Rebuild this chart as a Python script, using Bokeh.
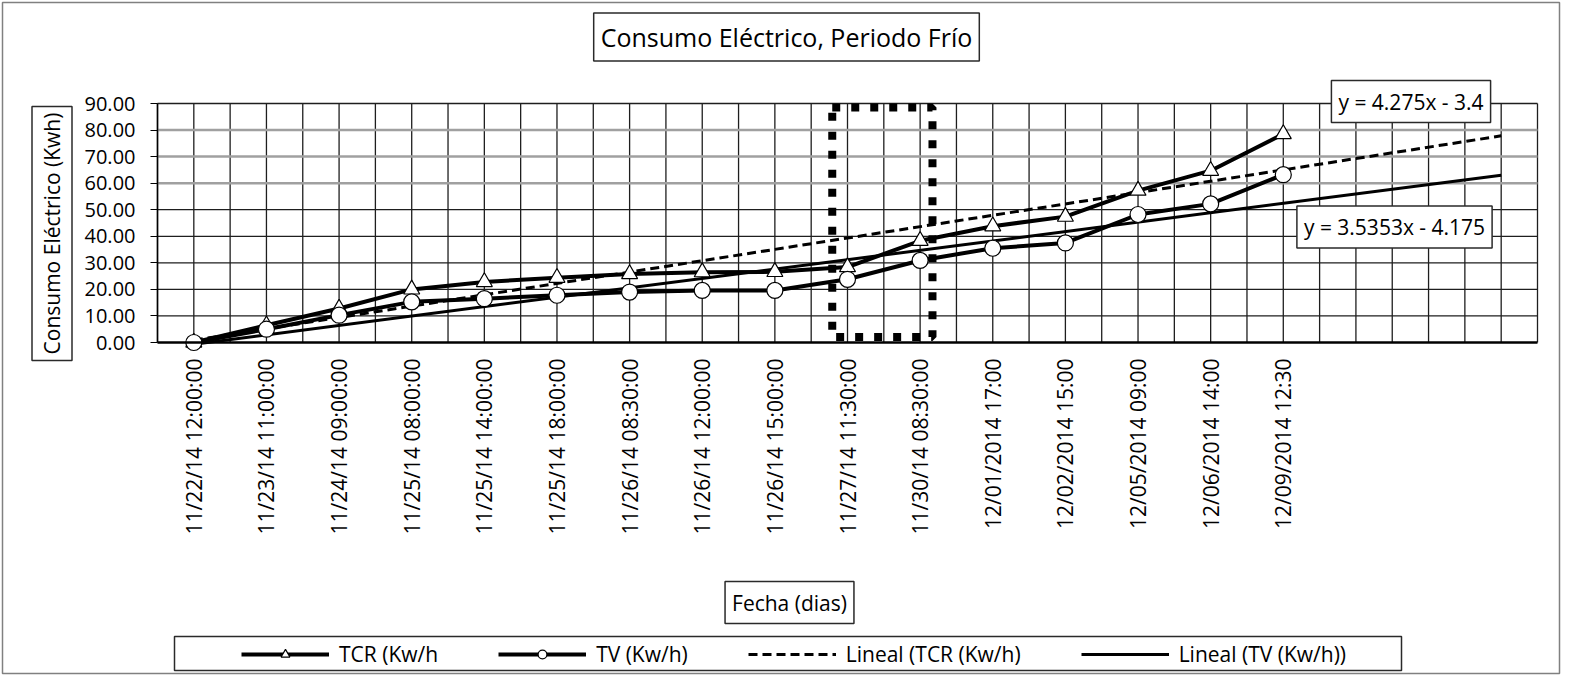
import math
from bokeh.plotting import figure
from bokeh.models import (Range1d, FixedTicker, NumeralTickFormatter, Label,
                          Legend, LegendItem, BoxAnnotation)
from bokeh.embed import file_html
from bokeh.resources import INLINE

# ---------------- data ----------------
categories = [
    "11/22/14 12:00:00", "11/23/14 11:00:00", "11/24/14 09:00:00",
    "11/25/14 08:00:00", "11/25/14 14:00:00", "11/25/14 18:00:00",
    "11/26/14 08:30:00", "11/26/14 12:00:00", "11/26/14 15:00:00",
    "11/27/14 11:30:00", "11/30/14 08:30:00", "12/01/2014 17:00",
    "12/02/2014 15:00", "12/05/2014 09:00", "12/06/2014 14:00",
    "12/09/2014 12:30",
]
tcr = [0.0, 6.5, 12.8, 20.0, 22.8, 24.4, 25.8, 26.5, 26.6, 28.4,
       38.3, 43.8, 47.4, 57.2, 64.7, 78.5]
tv = [0.0, 5.0, 10.3, 15.3, 16.5, 17.8, 19.0, 19.6, 19.6, 23.8,
      30.9, 35.5, 37.5, 48.2, 52.2, 63.2]
y_ticks = [0, 10, 20, 30, 40, 50, 60, 70, 80, 90]

# trend lines as printed on the chart (y = m*x + b, x = 1..n)
tcr_slope, tcr_intercept = 4.275, -3.4
tv_slope, tv_intercept = 3.5353, -4.175
forecast_periods = 3
eq_tcr = "y = 4.275x - 3.4"
eq_tv = "y = 3.5353x - 4.175"

series_names = ["TCR (Kw/h", "TV (Kw/h)", "Lineal (TCR (Kw/h)", "Lineal (TV (Kw/h))"]

# highlighted period (category positions / kWh)
highlight_x = (8.79, 10.17)
highlight_y = (2.1, 88.5)

# ---------------- layout ----------------
FONT = "Open Sans"
W, H = 1561, 675
n_cat = len(categories)
n_axis = n_cat + forecast_periods
x_lo, x_hi = -0.5, n_axis - 0.5
y_lo, y_hi = 0, 90

# plot-area position on the canvas (pixels)
FL, FR, FT, FB = 157, 1537, 103, 342
ppx = (FR - FL) / (x_hi - x_lo)
ppy = (FB - FT) / (y_hi - y_lo)


def dx(px):
    return x_lo + (px - FL) / ppx


def dy(py):
    return y_lo + (FB - py) / ppy


p = figure(width=W, height=H,
           x_range=Range1d(dx(0), dx(W)), y_range=Range1d(dy(H), dy(0)),
           output_backend="svg", toolbar_location=None,
           min_border=0, min_border_left=0, min_border_right=0,
           min_border_top=0, min_border_bottom=0,
           background_fill_color="white", border_fill_color="white")
p.outline_line_color = None
p.xgrid.visible = False
p.ygrid.visible = False

# outer chart border
p.add_layout(BoxAnnotation(left=dx(2), right=dx(W - 2), top=dy(2), bottom=dy(H - 2),
                           fill_color=None, fill_alpha=0, line_color="#808080",
                           line_alpha=1, line_width=1.5, level="underlay"))

# gridlines of the plot area
vx = [x_lo + 0.5 * k for k in range(int((x_hi - x_lo) * 2) + 1)]
p.segment(x0=vx, y0=[y_lo] * len(vx), x1=vx, y1=[y_hi] * len(vx),
          line_color="#1e1e1e", line_width=1.3)
hy_dark = [10, 20, 30, 40, 50, 90]
hy_gray = [60, 70, 80]
p.segment(x0=[x_lo] * len(hy_gray), y0=hy_gray, x1=[x_hi] * len(hy_gray), y1=hy_gray,
          line_color="#a0a0a0", line_width=2.5)
p.segment(x0=[x_lo] * len(hy_dark), y0=hy_dark, x1=[x_hi] * len(hy_dark), y1=hy_dark,
          line_color="#1e1e1e", line_width=1.3)

# axes at the plot-area edges
p.yaxis.fixed_location = x_lo
p.yaxis.bounds = (y_lo, y_hi)
p.yaxis.ticker = FixedTicker(ticks=y_ticks)
p.yaxis.formatter = NumeralTickFormatter(format="0.00")
p.yaxis.major_tick_out = 7
p.yaxis.major_tick_in = 0
p.yaxis.minor_tick_out = 0
p.yaxis.minor_tick_in = 0
p.yaxis.axis_line_width = 1.5
p.yaxis.axis_line_color = "black"
p.yaxis.major_tick_line_color = "black"
p.yaxis.major_label_standoff = 15
p.yaxis.major_label_text_font = FONT
p.yaxis.major_label_text_font_size = "20px"
p.yaxis.major_label_text_color = "black"

p.xaxis.fixed_location = y_lo
p.xaxis.bounds = (x_lo, x_hi)
p.xaxis.ticker = FixedTicker(ticks=list(range(n_cat)))
p.xaxis.major_label_overrides = {i: c for i, c in enumerate(categories)}
p.xaxis.major_label_orientation = math.pi / 2
p.xaxis.major_tick_out = 0
p.xaxis.major_tick_in = 0
p.xaxis.minor_tick_out = 0
p.xaxis.minor_tick_in = 0
p.xaxis.axis_line_width = 2.5
p.xaxis.axis_line_color = "black"
p.xaxis.major_label_standoff = 16
p.xaxis.major_label_text_font = FONT
p.xaxis.major_label_text_font_size = "21px"
p.xaxis.major_label_text_color = "black"

# highlight box
p.add_layout(BoxAnnotation(left=highlight_x[0], right=highlight_x[1],
                           bottom=highlight_y[0], top=highlight_y[1],
                           fill_color=None, fill_alpha=0, line_color="black",
                           line_width=8, line_dash="8 11", line_alpha=1))

idx = list(range(n_cat))
tx = [0, n_axis - 1]
tcr_fit = [tcr_slope * (x + 1) + tcr_intercept for x in tx]
tv_fit = [tv_slope * (x + 1) + tv_intercept for x in tx]

r_tcr_trend = p.line(tx, tcr_fit, line_color="black", line_width=3, line_dash="9 5")
r_tv_trend = p.line(tx, tv_fit, line_color="black", line_width=3)

r_tcr_line = p.line(idx, tcr, line_color="black", line_width=4)
r_tv_line = p.line(idx, tv, line_color="black", line_width=4)
r_tcr_pts = p.scatter(idx, tcr, marker="triangle", size=16, fill_color="white",
                      line_color="black", line_width=1.2)
r_tv_pts = p.scatter(idx, tv, marker="circle", size=16, fill_color="white",
                     line_color="black", line_width=1.2)

box_style = dict(border_line_color="#2a2a2a", border_line_width=1.5,
                 background_fill_color="white", text_color="black", text_font=FONT,
                 text_align="center", text_baseline="middle")

p.add_layout(Label(x=dx(786), y=dy(36.5), text="Consumo Eléctrico, Periodo Frío",
                   text_font_size="25px", padding=7, **box_style))
p.add_layout(Label(x=dx(51.5), y=dy(233), text="Consumo Eléctrico (Kwh)", angle=math.pi / 2,
                   text_font_size="21px", padding=6, **box_style))
p.add_layout(Label(x=dx(789), y=dy(602), text="Fecha (dias)",
                   text_font_size="21px", padding=7, **box_style))
p.add_layout(Label(x=dx(1410.5), y=dy(101), text=eq_tcr,
                   text_font_size="21px", padding=7, **box_style))
p.add_layout(Label(x=dx(1394), y=dy(226.5), text=eq_tv,
                   text_font_size="21px", padding=7, **box_style))

# legend frame, then the legend items inside it
p.add_layout(BoxAnnotation(left=dx(174), right=dx(1401), top=dy(636), bottom=dy(670),
                           fill_color="white", fill_alpha=1, line_color="#2a2a2a",
                           line_alpha=1, line_width=1.5))
legend = Legend(items=[
    LegendItem(label=series_names[0], renderers=[r_tcr_line, r_tcr_pts]),
    LegendItem(label=series_names[1], renderers=[r_tv_line, r_tv_pts]),
    LegendItem(label=series_names[2], renderers=[r_tcr_trend]),
    LegendItem(label=series_names[3], renderers=[r_tv_trend]),
], orientation="horizontal", location=(241, H - 668), margin=0, padding=0,
    spacing=60, glyph_width=88, glyph_height=22, label_standoff=10,
    label_text_font=FONT, label_text_font_size="21px", label_text_color="black",
    border_line_color=None, background_fill_alpha=0)
p.add_layout(legend)

open("out.html", "w").write(file_html(p, INLINE))
